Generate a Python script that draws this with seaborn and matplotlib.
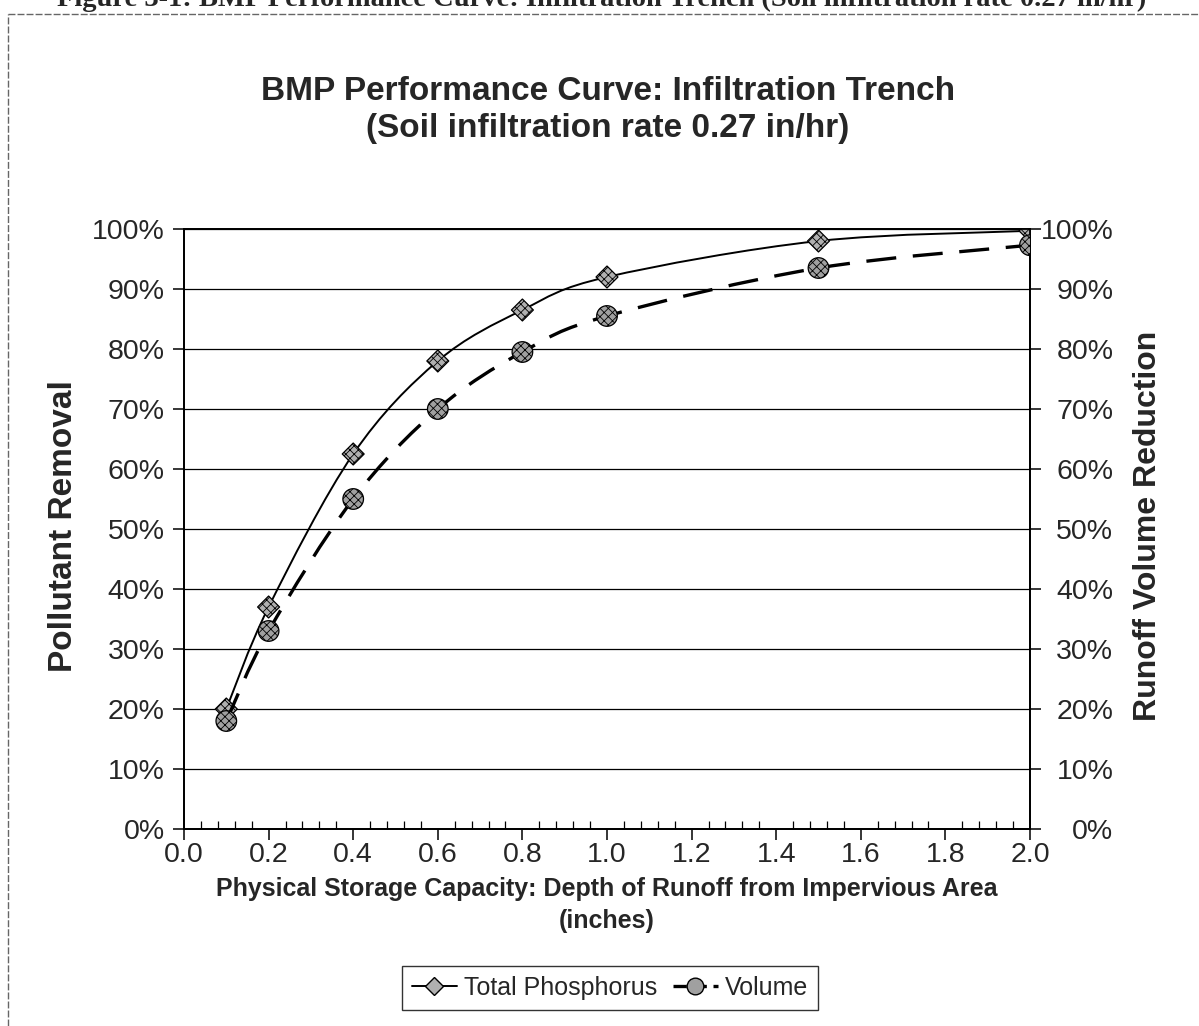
import numpy as np
import matplotlib
matplotlib.use("Agg")
import matplotlib.pyplot as plt
import seaborn as sns
from matplotlib.path import Path
from matplotlib.patches import PathPatch
from matplotlib.lines import Line2D
from matplotlib.ticker import MultipleLocator, PercentFormatter

# ---------------- data ----------------
depth_in = [0.1, 0.2, 0.4, 0.6, 0.8, 1.0, 1.5, 2.0]
total_phosphorus = [0.20, 0.37, 0.625, 0.78, 0.865, 0.92, 0.98, 0.997]
volume = [0.18, 0.33, 0.55, 0.70, 0.795, 0.855, 0.935, 0.973]
series_names = ["Total Phosphorus", "Volume"]
x_ticks = [0.0, 0.2, 0.4, 0.6, 0.8, 1.0, 1.2, 1.4, 1.6, 1.8, 2.0]
y_ticks = [0.0, 0.1, 0.2, 0.3, 0.4, 0.5, 0.6, 0.7, 0.8, 0.9, 1.0]

title = "BMP Performance Curve: Infiltration Trench\n(Soil infiltration rate 0.27 in/hr)"
header = "Figure 3-1: BMP Performance Curve: Infiltration Trench (Soil infiltration rate 0.27 in/hr)"
xlabel = "Physical Storage Capacity: Depth of Runoff from Impervious Area\n(inches)"
ylabel_left = "Pollutant Removal"
ylabel_right = "Runoff Volume Reduction"

# ---------------- style ----------------
sns.set_theme(style="white")
plt.rcParams["font.family"] = ["Liberation Sans", "DejaVu Sans"]
plt.rcParams["hatch.linewidth"] = 0.6

W, H = 1199, 1026
fig = plt.figure(figsize=(W / 100, H / 100), dpi=100)
fig.patch.set_facecolor("white")

L, R, T, B = 184, 1030, 229, 829
ax = fig.add_axes([L / W, 1 - B / H, (R - L) / W, (B - T) / H])
ax2 = ax.twinx()


def smooth_path(xs, ys):
    pts = np.column_stack([xs, ys]).astype(float)
    n = len(pts)
    verts = [pts[0]]
    codes = [Path.MOVETO]
    for i in range(n - 1):
        p0 = pts[i - 1] if i > 0 else pts[i]
        p1 = pts[i]
        p2 = pts[i + 1]
        p3 = pts[i + 2] if i + 2 < n else pts[i + 1]
        c1 = p1 + (p2 - p0) / 6.0
        c2 = p2 - (p3 - p1) / 6.0
        verts += [c1, c2, p2]
        codes += [Path.CURVE4] * 3
    return Path(verts, codes)


# Total phosphorus: solid smoothed line + diamond markers (left axis)
ax.add_patch(PathPatch(smooth_path(depth_in, total_phosphorus), fill=False,
                       edgecolor="black", linewidth=1.4, zorder=3))
sns.scatterplot(x=depth_in, y=total_phosphorus, marker="D", s=125,
                color="#b0b0b0", edgecolor="black", linewidth=0.9,
                ax=ax, zorder=4, legend=False)
ax.collections[-1].set_hatch("xxxx")

# Volume: dashed smoothed line + circle markers (right axis)
ax2.add_patch(PathPatch(smooth_path(depth_in, volume), fill=False,
                        edgecolor="black", linewidth=2.4,
                        linestyle=(0, (9, 5)), zorder=3))
sns.scatterplot(x=depth_in, y=volume, marker="o", s=220,
                color="#a0a0a0", edgecolor="black", linewidth=0.9,
                ax=ax2, zorder=4, legend=False)
ax2.collections[-1].set_hatch("xxxx")

# ---------------- axes ----------------
ax.set_xlim(0, 2.0)
ax.set_ylim(0, 1.0)
ax2.set_ylim(0, 1.0)
ax.set_xticks(x_ticks)
ax.set_xticklabels([f"{v:.1f}" for v in x_ticks])
ax.xaxis.set_minor_locator(MultipleLocator(0.04))
ax.set_yticks(y_ticks)
ax2.set_yticks(y_ticks)
ax.yaxis.set_major_formatter(PercentFormatter(1.0, decimals=0))
ax2.yaxis.set_major_formatter(PercentFormatter(1.0, decimals=0))

ax.yaxis.grid(True, color="black", linewidth=0.9)
ax.xaxis.grid(False)
ax2.grid(False)
ax.set_axisbelow(True)

for a in (ax, ax2):
    for s in a.spines.values():
        s.set_color("black")
        s.set_linewidth(1.3)
    a.set_facecolor("none")

ax.tick_params(axis="x", which="major", direction="out", length=8, width=1.1,
               color="black", labelsize=20.5, pad=1, bottom=True)
ax.tick_params(axis="x", which="minor", direction="in", length=6, width=0.9,
               color="black", bottom=True)
ax.tick_params(axis="y", which="major", direction="out", length=8, width=1.1,
               color="black", labelsize=20.5, pad=6, left=True)
ax2.tick_params(axis="y", which="major", direction="out", length=8, width=1.1,
                color="black", labelsize=20.5, pad=52, right=True)
for lab in ax2.get_yticklabels():
    lab.set_horizontalalignment("right")

ax.set_xlabel(xlabel, fontsize=18, fontweight="bold", linespacing=1.4)
ax.xaxis.set_label_coords(0.5, (B - 877) / (B - T))
ax.xaxis.label.set_verticalalignment("top")

ax.set_ylabel(ylabel_left, fontsize=24, fontweight="bold")
ax.yaxis.set_label_coords((64 - L) / (R - L), 0.505)
ax.yaxis.label.set_verticalalignment("center")

ax2.set_ylabel(ylabel_right, fontsize=23, fontweight="bold", rotation=90)
ax2.yaxis.set_label_coords((1148 - L) / (R - L), 0.505)
ax2.yaxis.label.set_verticalalignment("center")

# title
fig.text(608 / W, 1 - 110 / H, title, ha="center", va="center",
         fontsize=24, fontweight="bold", linespacing=1.25)

# clipped header of the page (only its lower edge shows, as in the scan)
fig.text(57 / W, 1 - 6 / H, header, ha="left", va="baseline",
         fontsize=20.5, fontweight="bold", family=["Liberation Serif", "DejaVu Serif"])

# page border (top and left)
fig.add_artist(Line2D([8 / W, 1.0], [1 - 14 / H, 1 - 14 / H], transform=fig.transFigure,
                      color="#666666", linewidth=1.0, linestyle=(0, (5, 1.5))))
fig.add_artist(Line2D([8 / W, 8 / W], [0.0, 1 - 14 / H], transform=fig.transFigure,
                      color="#666666", linewidth=1.0, linestyle=(0, (5, 1.5))))

# legend
handles = [
    Line2D([], [], color="black", linewidth=1.4, marker="D", markersize=9,
           markerfacecolor="#b0b0b0", markeredgecolor="black"),
    Line2D([], [], color="black", linewidth=2.4, linestyle=(0, (4, 2)), marker="o",
           markersize=12, markerfacecolor="#a0a0a0", markeredgecolor="black"),
]
leg = fig.legend(handles, series_names, loc="center", bbox_to_anchor=(610 / W, 1 - 988 / H),
                 ncol=2, fontsize=18, frameon=True, fancybox=False, edgecolor="black",
                 handlelength=1.8, columnspacing=0.6, handletextpad=0.3,
                 borderpad=0.4)
leg.get_frame().set_linewidth(1.0)

fig.savefig("out.png", dpi=100, facecolor="white")
